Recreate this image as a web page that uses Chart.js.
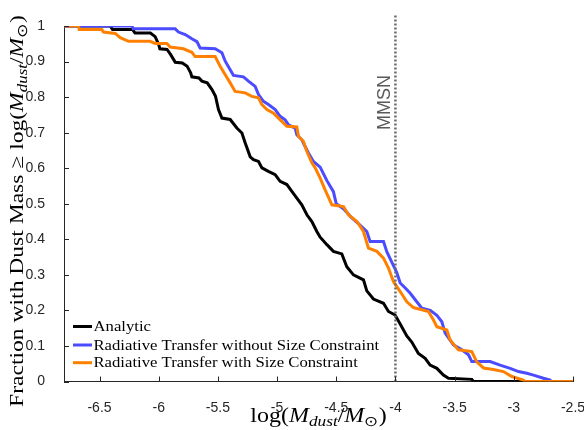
<!DOCTYPE html>
<html>
<head>
<meta charset="utf-8">
<script src="https://cdn.jsdelivr.net/npm/chart.js@4.4.1/dist/chart.umd.min.js"></script>
<style>
  html, body { margin: 0; padding: 0; background: #fff; }
  canvas { display: block; }
</style>
</head>
<body>
<canvas id="myChart" width="584" height="430"></canvas>
<script>
// cumulative fraction of discs with dust mass above log(Mdust/Msun)
const analyticX = [-6.8, -6.41, -6.39, -6.22, -6.2, -6.07, -6.03, -6.0, -5.99, -5.93, -5.9, -5.86, -5.8, -5.76, -5.73, -5.72, -5.66, -5.635, -5.59, -5.55, -5.52, -5.495, -5.466, -5.396, -5.34, -5.297, -5.269, -5.227, -5.199, -5.157, -5.128, -5.073, -5.016, -4.974, -4.917, -4.875, -4.833, -4.791, -4.748, -4.706, -4.664, -4.636, -4.579, -4.524, -4.453, -4.411, -4.355, -4.27, -4.242, -4.186, -4.101, -4.059, -4.003, -3.96, -3.904, -3.862, -3.806, -3.749, -3.707, -3.65, -3.595, -3.552, -3.355, -3.341, -2.5];
const analyticY = [1, 1, 0.99, 0.99, 0.98, 0.98, 0.97, 0.948, 0.936, 0.934, 0.92, 0.898, 0.896, 0.887, 0.868, 0.857, 0.854, 0.845, 0.84, 0.821, 0.802, 0.765, 0.741, 0.737, 0.713, 0.699, 0.671, 0.632, 0.624, 0.619, 0.601, 0.591, 0.582, 0.563, 0.554, 0.535, 0.516, 0.497, 0.469, 0.45, 0.422, 0.406, 0.385, 0.366, 0.359, 0.323, 0.3, 0.286, 0.255, 0.232, 0.22, 0.197, 0.187, 0.162, 0.128, 0.111, 0.079, 0.065, 0.046, 0.037, 0.018, 0.009, 0.006, 0, 0];

const rtNoSizeX = [-6.8, -6.226, -6.215, -5.861, -5.833, -5.776, -5.72, -5.677, -5.65, -5.523, -5.466, -5.438, -5.396, -5.368, -5.284, -5.242, -5.185, -5.157, -5.115, -5.073, -5.016, -4.974, -4.932, -4.904, -4.847, -4.833, -4.791, -4.763, -4.735, -4.693, -4.636, -4.579, -4.524, -4.5, -4.439, -4.368, -4.313, -4.242, -4.214, -4.101, -4.073, -4.03, -3.988, -3.96, -3.917, -3.875, -3.833, -3.777, -3.706, -3.65, -3.608, -3.58, -3.51, -3.439, -3.383, -3.355, -3.2, -3.116, -3.031, -2.961, -2.89, -2.834, -2.75, -2.693, -2.685];
const rtNoSizeY = [1, 1, 0.992, 0.992, 0.983, 0.976, 0.964, 0.956, 0.938, 0.936, 0.925, 0.901, 0.877, 0.861, 0.857, 0.845, 0.83, 0.807, 0.788, 0.779, 0.765, 0.746, 0.736, 0.722, 0.713, 0.694, 0.68, 0.661, 0.643, 0.619, 0.603, 0.565, 0.534, 0.5, 0.486, 0.46, 0.444, 0.422, 0.394, 0.394, 0.365, 0.335, 0.306, 0.277, 0.263, 0.248, 0.23, 0.206, 0.2, 0.186, 0.168, 0.136, 0.103, 0.089, 0.075, 0.056, 0.056, 0.046, 0.037, 0.028, 0.023, 0.018, 0.009, 0.004, 0];

const rtSizeX = [-6.8, -6.677, -6.671, -6.48, -6.466, -6.367, -6.325, -6.255, -6.072, -6.03, -5.931, -5.903, -5.791, -5.72, -5.692, -5.523, -5.481, -5.438, -5.396, -5.354, -5.269, -5.213, -5.157, -5.128, -5.086, -5.03, -4.988, -4.917, -4.833, -4.819, -4.777, -4.748, -4.706, -4.678, -4.636, -4.594, -4.537, -4.439, -4.397, -4.326, -4.27, -4.228, -4.157, -4.101, -4.059, -4.017, -3.96, -3.904, -3.848, -3.721, -3.679, -3.65, -3.566, -3.538, -3.468, -3.355, -3.313, -3.256, -3.172, -3.088, -3.017, -2.919, -2.905, -2.5];
const rtSizeY = [1, 1, 0.99, 0.99, 0.983, 0.979, 0.967, 0.957, 0.957, 0.951, 0.951, 0.941, 0.936, 0.926, 0.914, 0.914, 0.887, 0.863, 0.84, 0.816, 0.812, 0.802, 0.798, 0.779, 0.765, 0.755, 0.741, 0.718, 0.716, 0.69, 0.675, 0.647, 0.615, 0.601, 0.572, 0.539, 0.497, 0.492, 0.469, 0.45, 0.422, 0.375, 0.366, 0.347, 0.319, 0.281, 0.253, 0.224, 0.208, 0.197, 0.173, 0.154, 0.145, 0.117, 0.089, 0.084, 0.055, 0.038, 0.034, 0.028, 0.014, 0.004, 0, 0];

const seriesLabels = ['Analytic', 'Radiative Transfer without Size Constraint', 'Radiative Transfer with Size Constraint'];
const seriesColors = ['#000000', '#4b4bff', '#ff8000'];

const xTicks = [-6.5, -6, -5.5, -5, -4.5, -4, -3.5, -3, -2.5];
const yTicks = [0, 0.1, 0.2, 0.3, 0.4, 0.5, 0.6, 0.7, 0.8, 0.9, 1];
const mmsnX = -4;
const mmsnLabel = 'MMSN';

const SANS = '"Liberation Sans", Arial, sans-serif';
const SERIF = '"Liberation Serif", "Times New Roman", serif';
const AXIS_COLOR = '#262626';

const toPoints = (xs, ys) => xs.map((x, i) => ({ x: x, y: ys[i] }));

// log(M_dust / M_sun) with italics and subscripts
const massLabel = [['log(', ''], ['M', 'i'], ['dust', 'is'], ['/', ''], ['M', 'i'], ['\u2299', 's'], [')', '']];
const yTitle = [['Fraction with Dust Mass \u2265 ', '']].concat(massLabel);

// the original uses LaTeX fonts, which run wider than Times, so text is stretched a bit
function drawRich(ctx, parts, x, y, size, stretch) {
  const fonts = parts.map(([t, st]) => {
    const sz = st.includes('s') ? size * 0.72 : size;
    return (st.includes('i') ? 'italic ' : '') + sz + 'px ' + SERIF;
  });
  const widths = parts.map(([t], i) => { ctx.font = fonts[i]; return ctx.measureText(t).width; });
  let cx = -widths.reduce((a, b) => a + b, 0) / 2;
  ctx.save();
  ctx.translate(x, y);
  ctx.scale(stretch, 1);
  ctx.textAlign = 'left';
  ctx.textBaseline = 'alphabetic';
  parts.forEach(([t, st], i) => {
    ctx.font = fonts[i];
    ctx.fillText(t, cx, st.includes('s') ? size * 0.22 : 0);
    cx += widths[i];
  });
  ctx.restore();
}

const decorations = {
  id: 'decorations',
  afterDraw(chart) {
    const ctx = chart.ctx;
    const area = chart.chartArea;
    const xs = chart.scales.x;
    const ys = chart.scales.y;
    ctx.save();

    // inward tick marks
    ctx.strokeStyle = AXIS_COLOR;
    ctx.lineWidth = 1;
    ctx.beginPath();
    xTicks.forEach(v => {
      const px = Math.round(xs.getPixelForValue(v)) + 0.5;
      ctx.moveTo(px, area.bottom);
      ctx.lineTo(px, area.bottom - 5);
    });
    yTicks.forEach(v => {
      const py = Math.round(ys.getPixelForValue(v)) + 0.5;
      ctx.moveTo(area.left, py);
      ctx.lineTo(area.left + 5, py);
    });
    ctx.stroke();

    // MMSN label beside the dotted line
    ctx.fillStyle = '#5a5a5a';
    ctx.font = '18px ' + SANS;
    ctx.translate(xs.getPixelForValue(mmsnX) - 5, ys.getPixelForValue(0.785));
    ctx.rotate(-Math.PI / 2);
    ctx.textAlign = 'center';
    ctx.textBaseline = 'alphabetic';
    ctx.fillText(mmsnLabel, 0, 0);
    ctx.restore();

    // legend, lower left inside the axes
    const rows = [area.bottom - 55, area.bottom - 36.5, area.bottom - 18.8];
    seriesLabels.forEach((label, i) => {
      ctx.save();
      ctx.strokeStyle = seriesColors[i];
      ctx.lineWidth = 3;
      ctx.beginPath();
      ctx.moveTo(area.left + 9, rows[i]);
      ctx.lineTo(area.left + 28, rows[i]);
      ctx.stroke();
      ctx.fillStyle = '#000';
      ctx.font = '14.5px ' + SERIF;
      ctx.textAlign = 'left';
      ctx.textBaseline = 'alphabetic';
      ctx.translate(area.left + 29.5, rows[i] + 4.5);
      ctx.scale(1.15, 1);
      ctx.fillText(label, 0, 0);
      ctx.restore();
    });

    // axis titles
    ctx.save();
    ctx.fillStyle = '#000';
    drawRich(ctx, massLabel, (area.left + area.right) / 2, 422, 20, 1.2);
    ctx.translate(23, 211);
    ctx.rotate(-Math.PI / 2);
    drawRich(ctx, yTitle, 0, 0, 19, 1.24);
    ctx.restore();
  }
};

const lineStyle = { borderWidth: 3, pointRadius: 0, fill: false, tension: 0 };

const ctx = document.getElementById('myChart').getContext('2d');
new Chart(ctx, {
  type: 'line',
  data: {
    datasets: [
      Object.assign({ label: seriesLabels[0], data: toPoints(analyticX, analyticY), borderColor: seriesColors[0], order: 3 }, lineStyle),
      Object.assign({ label: seriesLabels[1], data: toPoints(rtNoSizeX, rtNoSizeY), borderColor: seriesColors[1], order: 2 }, lineStyle),
      Object.assign({ label: seriesLabels[2], data: toPoints(rtSizeX, rtSizeY), borderColor: seriesColors[2], order: 1 }, lineStyle),
      {
        label: mmsnLabel,
        data: [{ x: mmsnX, y: 0 }, { x: mmsnX, y: 1.035 }],
        borderColor: '#6a6a6a',
        borderWidth: 2.5,
        borderDash: [2, 2],
        pointRadius: 0,
        clip: false,
        order: 0
      }
    ]
  },
  options: {
    responsive: false,
    animation: false,
    devicePixelRatio: 1,
    layout: { padding: { top: 26, right: 11, left: 0, bottom: 0 } },
    plugins: {
      legend: { display: false },
      tooltip: { enabled: false }
    },
    scales: {
      x: {
        type: 'linear',
        min: -6.8,
        max: -2.5,
        grid: { display: false },
        border: { display: true, color: AXIS_COLOR, width: 1 },
        ticks: {
          color: AXIS_COLOR,
          font: { family: SANS, size: 14 },
          padding: 10,
          maxRotation: 0,
          callback: v => String(v)
        },
        afterBuildTicks: s => { s.ticks = xTicks.map(v => ({ value: v })); },
        afterFit: s => { s.height = 48.5; s.paddingLeft = 0; s.paddingRight = 0; }
      },
      y: {
        type: 'linear',
        min: 0,
        max: 1,
        grid: { display: false },
        border: { display: true, color: AXIS_COLOR, width: 1 },
        ticks: {
          color: AXIS_COLOR,
          font: { family: SANS, size: 14 },
          padding: 11,
          callback: v => String(v)
        },
        afterBuildTicks: s => { s.ticks = yTicks.map(v => ({ value: v })); },
        afterFit: s => { s.width = 64; s.paddingTop = 0; s.paddingBottom = 0; }
      }
    }
  },
  plugins: [decorations]
});
</script>
</body>
</html>
